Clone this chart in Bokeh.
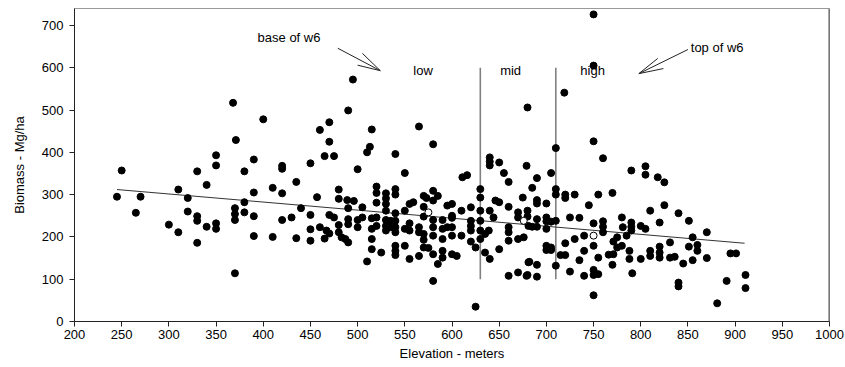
from bokeh.plotting import figure
from bokeh.models import Range1d, FixedTicker, Span, Label
from bokeh.embed import file_html
from bokeh.resources import INLINE

# ---- data ----
elev = [
    245, 250, 265, 270, 300, 310, 310, 320, 320, 330, 330, 330, 330, 340, 340, 350, 350, 350, 350,
    371, 400, 460, 470, 470, 515, 565, 580, 465, 475, 513, 510, 540, 390, 420, 420, 450, 380, 500,
    550, 611, 616, 640, 640, 640, 650, 655, 660, 679, 435, 390, 410, 420, 380, 370, 370, 370, 380,
    390, 390, 410, 420, 430, 435, 440, 450, 450, 450, 457, 460, 465, 470, 475, 467, 470, 480, 480,
    480, 480, 483, 487, 490, 489, 496, 490, 490, 490, 500, 500, 505, 505, 510, 515, 520, 515, 520,
    515, 515, 520, 520, 520, 525, 530, 530, 530, 530, 530, 530, 530, 535, 535, 540, 540, 540, 540,
    540, 540, 540, 540, 540, 550, 550, 550, 555, 559, 555, 555, 555, 565, 565, 565, 570, 573, 570,
    570, 570, 570, 570, 575, 580, 585, 580, 580, 580, 580, 580, 580, 585, 590, 590, 590, 590, 590,
    595, 600, 595, 600, 600, 600, 600, 600, 605, 610, 610, 620, 620, 620, 620, 620, 625, 630, 630,
    630, 630, 630, 630, 635, 639, 635, 640, 644, 646, 650, 640, 650, 660, 660, 660, 660, 660, 670,
    679, 670, 670, 670, 676, 675, 681, 681, 370, 625,
    710, 750, 760, 690, 705, 685, 710, 710, 690, 690, 700, 720, 720, 730, 745, 755, 770, 790, 805,
    805, 818, 825, 810, 825, 840, 851, 870, 820, 780, 781, 790, 790, 790, 800, 805, 785, 775, 771,
    760, 760, 760, 750, 750, 740, 730, 725, 735, 720, 740, 735, 755, 766, 771, 770, 775, 780, 788,
    788, 800, 810, 810, 820, 820, 820, 831, 831, 836, 845, 851, 855, 855, 860, 860, 870, 895, 901,
    911, 911, 891, 881, 840, 840, 791, 750, 750, 750, 755, 740, 725, 710, 715, 720, 700, 705, 700,
    705, 682, 690, 680, 690, 685, 690, 700, 700, 700, 705, 710, 680, 680, 690,
    368, 490, 495, 680, 719, 750, 750,
]
biomass = [
    295, 357, 257, 295, 229, 211, 312, 292, 260, 355, 249, 238, 186, 323, 224, 393, 369, 232, 219,
    429, 478, 453, 471, 425, 454, 461, 419, 391, 391, 413, 400, 396, 383, 368, 361, 374, 355, 360,
    351, 341, 346, 388, 378, 369, 376, 351, 330, 368, 330, 305, 316, 303, 282, 268, 254, 240, 258,
    249, 202, 200, 240, 246, 197, 268, 252, 218, 191, 294, 223, 196, 252, 246, 215, 208, 312, 290,
    228, 211, 199, 195, 187, 287, 285, 268, 242, 230, 240, 223, 270, 246, 142, 244, 246, 219, 226,
    195, 171, 319, 304, 281, 163, 303, 291, 278, 262, 240, 226, 215, 238, 223, 238, 223, 313, 300,
    256, 211, 179, 167, 157, 262, 179, 219, 278, 282, 232, 215, 148, 223, 211, 155, 297, 292, 271,
    248, 207, 193, 175, 174, 309, 297, 286, 240, 223, 203, 159, 96, 136, 240, 219, 195, 167, 151,
    274, 278, 223, 250, 245, 223, 203, 159, 155, 262, 203, 270, 238, 226, 215, 189, 175, 313, 293,
    262, 238, 215, 195, 207, 215, 163, 262, 246, 286, 282, 148, 171, 271, 223, 211, 191, 108, 116,
    108, 258, 246, 195, 199, 293, 226, 140, 114, 35,
    410, 426, 386, 339, 351, 316, 313, 300, 287, 279, 279, 300, 292, 300, 275, 300, 304, 357, 367,
    347, 341, 329, 262, 275, 256, 238, 211, 234, 246, 223, 234, 224, 215, 226, 219, 203, 199, 189,
    237, 224, 211, 232, 179, 203, 195, 246, 245, 185, 167, 145, 151, 158, 159, 134, 175, 179, 167,
    148, 148, 167, 155, 177, 163, 151, 187, 151, 153, 137, 177, 199, 145, 181, 167, 150, 161, 161,
    110, 79, 96, 43, 92, 83, 114, 62, 122, 110, 112, 108, 118, 132, 157, 157, 179, 175, 169,
    169, 141, 134, 110, 106, 224, 224, 219, 246, 237, 236, 238, 262, 248, 242,
    517, 499, 572, 506, 541, 605, 726,
]
hollow_elev = [575, 676, 750]
hollow_biomass = [258, 238, 203]

trend_elev = [245, 910]
trend_biomass = [312, 185]

zone_bounds = [630, 710]
zone_low = [100, 100]
zone_high = [600, 600]

x_ticks = list(range(200, 1001, 50))
y_ticks = list(range(0, 701, 100))

FONT = "Liberation Sans"
FS = "13px"

p = figure(width=845, height=363,
           x_range=Range1d(200, 1000), y_range=Range1d(0, 740),
           output_backend="svg", toolbar_location=None,
           min_border_left=74, min_border_right=16,
           min_border_top=8, min_border_bottom=42)

p.background_fill_color = "white"
p.border_fill_color = "white"
p.outline_line_color = "#9a9a9a"
p.outline_line_width = 1
p.xgrid.grid_line_color = None
p.ygrid.grid_line_color = None

for ax in (p.xaxis, p.yaxis):
    ax.axis_line_color = "#222222"
    ax.major_tick_line_color = "#222222"
    ax.major_tick_in = 0
    ax.major_tick_out = 5
    ax.minor_tick_line_color = None
    ax.major_label_text_font = FONT
    ax.major_label_text_font_size = FS
    ax.major_label_text_color = "black"
    ax.axis_label_text_font = FONT
    ax.axis_label_text_font_size = FS
    ax.axis_label_text_font_style = "normal"
    ax.axis_label_text_color = "black"

p.xaxis.ticker = FixedTicker(ticks=x_ticks)
p.yaxis.ticker = FixedTicker(ticks=y_ticks)
p.xaxis.axis_label = "Elevation - meters"
p.yaxis.axis_label = "Biomass - Mg/ha"
p.xaxis.major_label_standoff = 3
p.yaxis.major_label_standoff = 6
p.xaxis.axis_label_standoff = 4
p.yaxis.axis_label_standoff = 12

# right border (darker)
p.add_layout(Span(location=1000, dimension="height", line_color="#555555", line_width=2))

# zone boundary lines
p.segment(x0=zone_bounds, y0=zone_low, x1=zone_bounds, y1=zone_high,
          line_color="#808080", line_width=1.6)

# trend line
p.line(trend_elev, trend_biomass, line_color="#333333", line_width=1)

# points
p.scatter(elev, biomass, size=7, fill_color="black", line_color="black")
p.scatter(hollow_elev, hollow_biomass, size=7, fill_color="white", line_color="black", line_width=1)

# arrows (annotation geometry)
arrow_x0 = [479, 505, 500, 850, 818, 824]
arrow_y0 = [646, 634, 606, 643, 622, 598]
arrow_x1 = [524, 524, 524, 798, 798, 798]
arrow_y1 = [593, 593, 593, 586, 586, 586]
p.segment(x0=arrow_x0, y0=arrow_y0, x1=arrow_x1, y1=arrow_y1, line_color="#222222", line_width=1)

for txt, lx, ly in [("base of w6", 394, 672), ("low", 559, 594), ("mid", 651, 594),
                    ("high", 736, 594), ("top of w6", 853, 648)]:
    p.add_layout(Label(x=lx, y=ly, text=txt, text_font=FONT, text_font_size=FS,
                       text_color="black", text_baseline="middle", text_align="left"))

open("out.html", "w").write(file_html(p, INLINE))
